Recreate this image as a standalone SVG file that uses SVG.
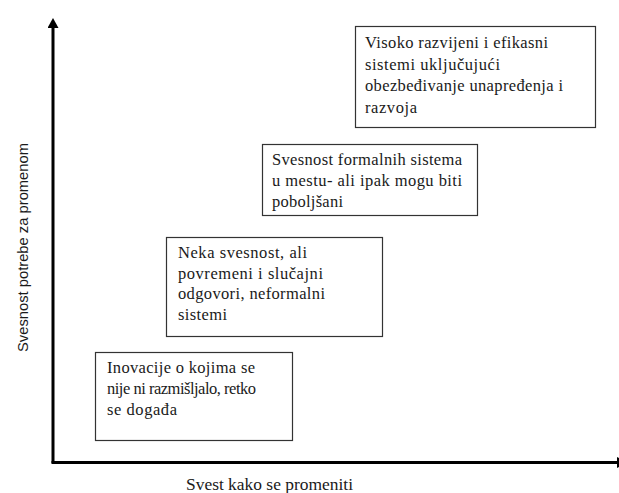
<svg xmlns="http://www.w3.org/2000/svg" width="619" height="493" viewBox="0 0 619 493">
<style>
.box{fill:#fff;stroke:#333;stroke-width:1.2}
.axis{stroke:#000;stroke-width:3;fill:none}
.t{font-family:"Liberation Serif","Times New Roman",serif;font-size:16.5px;fill:#1a1a1a}
</style>
<defs>
<marker id="ah" markerWidth="10" markerHeight="11" refX="0" refY="5.5" orient="auto" markerUnits="userSpaceOnUse">
<path d="M0,0 L10,5.5 L0,11 Z" fill="#000"/>
</marker>
</defs>
<rect width="619" height="493" fill="#fff"/>
<g id="connectors">
<path class="axis" d="M53,463 L53,28" marker-end="url(#ah)"/>
<path class="axis" d="M51.5,462.5 L617,462.5" marker-end="url(#ah)"/>
</g>
<g id="axis-y-label"><text transform="translate(28,247.5) rotate(-90)" text-anchor="middle" font-family="Liberation Sans, Arial, sans-serif" font-size="14.5" fill="#1a1a1a" textLength="209" lengthAdjust="spacingAndGlyphs">Svesnost potrebe za promenom</text></g>
<g id="axis-x-label"><text class="t" x="186" y="490" textLength="167" lengthAdjust="spacingAndGlyphs">Svest kako se promeniti</text></g>
<g id="box1">
<rect class="box" x="355.5" y="26.5" width="240" height="101"/>
<text class="t" x="365" y="48" textLength="183">Visoko razvijeni i efikasni</text>
<text class="t" x="365" y="69.5" textLength="135">sistemi uključujući</text>
<text class="t" x="365" y="91" textLength="198">obezbeđivanje unapređenja i</text>
<text class="t" x="365" y="112.5" textLength="52">razvoja</text>
</g>
<g id="box2">
<rect class="box" x="262.5" y="144.5" width="215" height="71"/>
<text class="t" x="272" y="165" textLength="190">Svesnost formalnih sistema</text>
<text class="t" x="272" y="186" textLength="190">u mestu- ali ipak mogu biti</text>
<text class="t" x="272" y="207" textLength="71">poboljšani</text>
</g>
<g id="box3">
<rect class="box" x="166.5" y="237.5" width="216" height="99"/>
<text class="t" x="178" y="258" textLength="129">Neka svesnost, ali</text>
<text class="t" x="178" y="278.5" textLength="145">povremeni i slučajni</text>
<text class="t" x="178" y="299" textLength="147">odgovori, neformalni</text>
<text class="t" x="178" y="319.5" textLength="49">sistemi</text>
</g>
<g id="box4">
<rect class="box" x="95.5" y="352.5" width="197" height="88"/>
<text class="t" x="107" y="373" textLength="148">Inovacije o kojima se</text>
<text class="t" x="107" y="394" textLength="149">nije ni razmišljalo, retko</text>
<text class="t" x="107" y="415" textLength="70">se događa</text>
</g>
</svg>
